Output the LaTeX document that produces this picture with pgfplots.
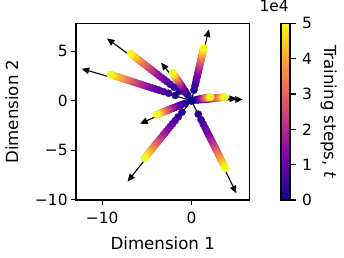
\documentclass[border=0pt]{standalone}
\usepackage{fontspec}
\setmainfont{DejaVu Sans}
\usepackage{pgfplots}
\usepackage{pgfplotstable}
\pgfplotsset{compat=1.18}
\usetikzlibrary{arrows.meta}
\pgfplotsset{colormap={plasma}{rgb255=(13,8,135) rgb255=(65,4,157) rgb255=(106,0,168) rgb255=(143,13,164) rgb255=(177,42,144) rgb255=(204,71,120) rgb255=(225,100,98) rgb255=(242,132,75) rgb255=(252,166,54) rgb255=(252,206,37) rgb255=(240,249,33)}}

% t in units of 1e4; a..i = the nine trajectories (x,y)
\pgfplotstableread{
t ax ay bx by cx cy dx dy ex ey fx gx gy hx hy ix iy
0.0 0 0 0 0 0 0 0 0 0 0 0 0 0 0 0 0 0
0.2 0.28 1.07 -1.37 0.95 -1.82 0.53 -0.42 0.56 0.43 0.07 0.75 -0.78 -0.28 -1.06 -1.16 0.76 -1.37
0.4 0.39 1.51 -1.94 1.35 -2.57 0.75 -0.59 0.79 0.61 0.10 1.06 -1.10 -0.40 -1.49 -1.65 1.07 -1.93
0.6 0.48 1.85 -2.37 1.65 -3.15 0.91 -0.73 0.97 0.74 0.12 1.30 -1.35 -0.49 -1.83 -2.02 1.31 -2.37
0.8 0.55 2.14 -2.74 1.91 -3.64 1.06 -0.84 1.12 0.86 0.14 1.50 -1.56 -0.57 -2.11 -2.33 1.52 -2.73
1.0 0.62 2.39 -3.06 2.13 -4.07 1.18 -0.94 1.26 0.96 0.16 1.68 -1.74 -0.64 -2.36 -2.60 1.69 -3.05
1.2 0.68 2.62 -3.36 2.34 -4.46 1.29 -1.03 1.38 1.05 0.17 1.84 -1.91 -0.70 -2.59 -2.85 1.86 -3.35
1.4 0.73 2.83 -3.63 2.52 -4.82 1.40 -1.11 1.49 1.14 0.19 1.98 -2.06 -0.75 -2.79 -3.08 2.01 -3.61
1.6 0.78 3.03 -3.88 2.70 -5.15 1.49 -1.19 1.59 1.22 0.20 2.12 -2.21 -0.80 -2.99 -3.29 2.14 -3.86
1.8 0.83 3.21 -4.11 2.86 -5.46 1.58 -1.26 1.69 1.29 0.21 2.25 -2.34 -0.85 -3.17 -3.49 2.27 -4.10
2.0 0.87 3.38 -4.33 3.02 -5.76 1.67 -1.33 1.78 1.36 0.22 2.37 -2.47 -0.90 -3.34 -3.68 2.40 -4.32
2.2 0.92 3.55 -4.54 3.16 -6.04 1.75 -1.39 1.86 1.43 0.23 2.49 -2.59 -0.94 -3.50 -3.86 2.51 -4.53
2.4 0.96 3.71 -4.75 3.30 -6.30 1.83 -1.45 1.95 1.49 0.24 2.60 -2.70 -0.98 -3.66 -4.03 2.63 -4.73
2.6 1.00 3.86 -4.94 3.44 -6.56 1.90 -1.51 2.03 1.55 0.25 2.70 -2.81 -1.02 -3.81 -4.20 2.73 -4.93
2.8 1.03 4.00 -5.13 3.57 -6.81 1.98 -1.57 2.10 1.61 0.26 2.81 -2.92 -1.06 -3.95 -4.36 2.84 -5.11
3.0 1.07 4.14 -5.31 3.69 -7.05 2.04 -1.63 2.18 1.67 0.27 2.90 -3.02 -1.10 -4.09 -4.51 2.94 -5.29
3.2 1.10 4.28 -5.48 3.82 -7.28 2.11 -1.68 2.25 1.72 0.28 3.00 -3.12 -1.14 -4.22 -4.66 3.03 -5.46
3.4 1.14 4.41 -5.65 3.93 -7.50 2.18 -1.73 2.32 1.77 0.29 3.09 -3.22 -1.17 -4.35 -4.80 3.13 -5.63
3.6 1.17 4.54 -5.81 4.05 -7.72 2.24 -1.78 2.38 1.82 0.30 3.18 -3.31 -1.20 -4.48 -4.94 3.22 -5.80
3.8 1.20 4.66 -5.97 4.16 -7.93 2.30 -1.83 2.45 1.87 0.31 3.27 -3.40 -1.24 -4.60 -5.07 3.30 -5.95
4.0 1.23 4.79 -6.13 4.27 -8.14 2.36 -1.88 2.51 1.92 0.31 3.35 -3.49 -1.27 -4.72 -5.21 3.39 -6.11
4.2 1.26 4.90 -6.28 4.37 -8.34 2.42 -1.92 2.58 1.97 0.32 3.44 -3.57 -1.30 -4.84 -5.33 3.47 -6.26
4.4 1.29 5.02 -6.43 4.47 -8.54 2.48 -1.97 2.64 2.02 0.33 3.52 -3.66 -1.33 -4.95 -5.46 3.56 -6.41
4.6 1.32 5.13 -6.57 4.58 -8.73 2.53 -2.01 2.70 2.06 0.34 3.60 -3.74 -1.36 -5.06 -5.58 3.64 -6.55
4.8 1.35 5.24 -6.71 4.67 -8.92 2.59 -2.06 2.75 2.11 0.34 3.67 -3.82 -1.39 -5.17 -5.70 3.71 -6.69
5.0 1.38 5.35 -6.85 4.77 -9.10 2.64 -2.10 2.81 2.15 0.35 3.75 -3.90 -1.42 -5.28 -5.82 3.79 -6.83
}\data

\begin{document}
\begin{tikzpicture}
\useasboundingbox (0,0) rectangle (344bp,258bp);
\begin{axis}[
  at={(76bp,58bp)}, anchor=south west,
  width=173.5bp, height=176.7bp, scale only axis,
  xmin=-12.94, xmax=6.5, ymin=-10.05, ymax=7.82,
  xtick={-10,0}, xticklabels={−10,0},
  ytick={-10,-5,0,5}, yticklabels={−10,−5,0,5},
  tick pos=left, tick align=outside, major tick length=4.9bp,
  every tick/.style={black, line width=1.1bp},
  axis line style={line width=1.1bp},
  tick label style={font=\fontsize{15.5}{18}\selectfont},
  xticklabel style={yshift=-4bp},
  xlabel={Dimension 1}, ylabel={Dimension 2},
  label style={font=\fontsize{16.7}{20}\selectfont},
  xlabel style={at={(axis description cs:0.5,-0.243)}, anchor=center},
  ylabel style={at={(axis description cs:-0.369,0.5)}, anchor=center},
  colormap name=plasma, point meta min=0, point meta max=5,
  colorbar,
  colorbar style={
    at={(parent axis.south east)}, anchor=south west, xshift=23bp,
    width=9bp, height=176.7bp, scale only axis,
    ytick={0,1,2,3,4,5}, yticklabels={0,1,2,3,4,5},
    ytick pos=right, yticklabel pos=right, tick align=outside,
    major tick length=5.5bp,
    every tick/.style={black, line width=1.1bp},
    axis line style={line width=1.1bp},
    tick label style={font=\fontsize{15.5}{18}\selectfont},
    yticklabel style={xshift=3bp},
    ylabel={Training steps, \textit{t}},
    ylabel style={at={(axis description cs:5.3,0.5)}, anchor=center, rotate=180, font=\fontsize{16.7}{20}\selectfont},
    title={1e4},
    title style={at={(axis description cs:1,1)}, anchor=base east, inner sep=0pt, xshift=-1bp, yshift=5.7bp, font=\fontsize{15.5}{18}\selectfont},
  },
]
\addplot[black, line width=1.1bp, -{Triangle[length=7.5bp,width=6.5bp]}] coordinates {(0,0) (1.95,7.2)};
\addplot[black, line width=1.1bp, -{Triangle[length=7.5bp,width=6.5bp]}] coordinates {(0,0) (-9.47,6.29)};
\addplot[black, line width=1.1bp, -{Triangle[length=7.5bp,width=6.5bp]}] coordinates {(0,0) (-12.3,3.22)};
\addplot[black, line width=1.1bp, -{Triangle[length=7.5bp,width=6.5bp]}] coordinates {(0,0) (-3.4,3.83)};
\addplot[black, line width=1.1bp, -{Triangle[length=7.5bp,width=6.5bp]}] coordinates {(0,0) (5.75,0.12)};
\addplot[black, line width=1.1bp, -{Triangle[length=7.5bp,width=6.5bp]}] coordinates {(0,0) (5.1,0.22)};
\addplot[black, line width=1.1bp, -{Triangle[length=7.5bp,width=6.5bp]}] coordinates {(0,0) (-5.76,-2.34)};
\addplot[black, line width=1.1bp, -{Triangle[length=7.5bp,width=6.5bp]}] coordinates {(0,0) (-7.16,-8.19)};
\addplot[black, line width=1.1bp, -{Triangle[length=7.5bp,width=6.5bp]}] coordinates {(0,0) (5.02,-9.37)};
\pgfplotsset{sc/.style={scatter, only marks, mark=*, mark size=3.6bp, scatter src=explicit, scatter/use mapped color={draw=mapped color, fill=mapped color}}}
\addplot[sc] table[x=cx, y=cy, meta=t] {\data};
\addplot[sc] table[x=bx, y=by, meta=t] {\data};
\addplot[sc] table[x=dx, y=dy, meta=t] {\data};
\addplot[sc] table[x=ax, y=ay, meta=t] {\data};
\addplot[sc] table[x=fx, y=ey, meta=t] {\data};
\addplot[sc] table[x=ex, y=ey, meta=t] {\data};
\addplot[sc] table[x=gx, y=gy, meta=t] {\data};
\addplot[sc] table[x=hx, y=hy, meta=t] {\data};
\addplot[sc] table[x=ix, y=iy, meta=t] {\data};
\end{axis}
\end{tikzpicture}
\end{document}
